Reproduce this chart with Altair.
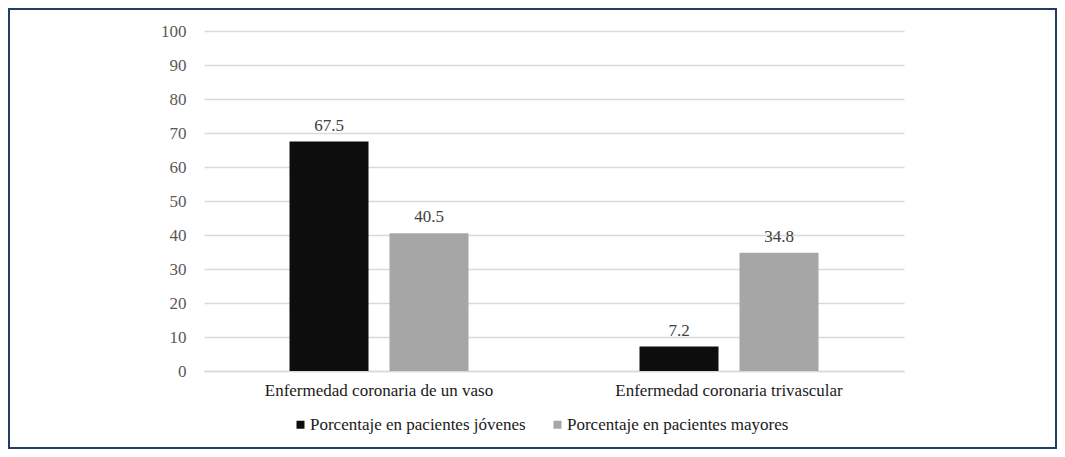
import altair as alt
import pandas as pd

categories = ["Enfermedad coronaria de un vaso", "Enfermedad coronaria trivascular"]
series = ["Porcentaje en pacientes jóvenes", "Porcentaje en pacientes mayores"]
young = [67.5, 7.2]
old = [40.5, 34.8]
colors = ["#0d0d0d", "#a6a6a6"]
y_ticks = [0, 10, 20, 30, 40, 50, 60, 70, 80, 90, 100]

rows = []
for i, c in enumerate(categories):
    rows.append({"cat": c, "serie": series[0], "val": young[i]})
    rows.append({"cat": c, "serie": series[1], "val": old[i]})
df = pd.DataFrame(rows)

FONT = "Liberation Serif"
FS = 17
W, H = 700, 340

x = alt.X("cat:N", sort=categories, title=None,
          scale=alt.Scale(paddingInner=0, paddingOuter=0),
          axis=alt.Axis(labelAngle=0, ticks=False, domainColor="#d9d9d9", domainWidth=1.5,
                        labelColor="#1a1a1a", labelFontSize=FS, labelPadding=11, labelFont=FONT,
                        labelLimit=0))
xoff = alt.XOffset("serie:N", sort=series,
                   scale=alt.Scale(paddingInner=0.21, paddingOuter=0.855))
y = alt.Y("val:Q", title=None,
          scale=alt.Scale(domain=[0, 100], nice=False),
          axis=alt.Axis(values=y_ticks, grid=True, gridColor="#d9d9d9", gridWidth=1.5,
                        domain=False, ticks=False, labelColor="#595959", labelFontSize=FS,
                        labelPadding=18, labelFont=FONT, labelOverlap=False))

color = alt.Color("serie:N", sort=series,
                  scale=alt.Scale(domain=series, range=colors),
                  legend=alt.Legend(title=None, orient="none", direction="horizontal",
                                    legendX=88, legendY=385, symbolType="square",
                                    symbolSize=64, symbolStrokeWidth=0, labelFont=FONT,
                                    labelFontSize=FS, labelColor="#1a1a1a",
                                    columnPadding=23, labelOffset=1, labelLimit=0))

bars = alt.Chart(df).mark_bar().encode(x=x, xOffset=xoff, y=y, color=color)
labels = alt.Chart(df).mark_text(baseline="bottom", dy=-7, font=FONT, fontSize=FS,
                                 color="#404040").encode(
    x=x, xOffset=xoff, y=y, text=alt.Text("val:Q", format=".1f"))

frame = alt.Chart(pd.DataFrame({"a": [0]})).mark_rect(
    fill=None, stroke="#1f3f66", strokeWidth=2).encode(
    x=alt.value(-195), x2=alt.value(852), y=alt.value(-22), y2=alt.value(417))

chart = alt.layer(bars, labels, frame).properties(
    width=W, height=H,
    background="white",
    autosize=alt.AutoSizeParams(type="none"),
    padding={"left": 196, "top": 23, "right": 153, "bottom": 78},
).configure_view(stroke=None)

chart.save("out.html", embed_options={"renderer": "svg", "actions": False})
